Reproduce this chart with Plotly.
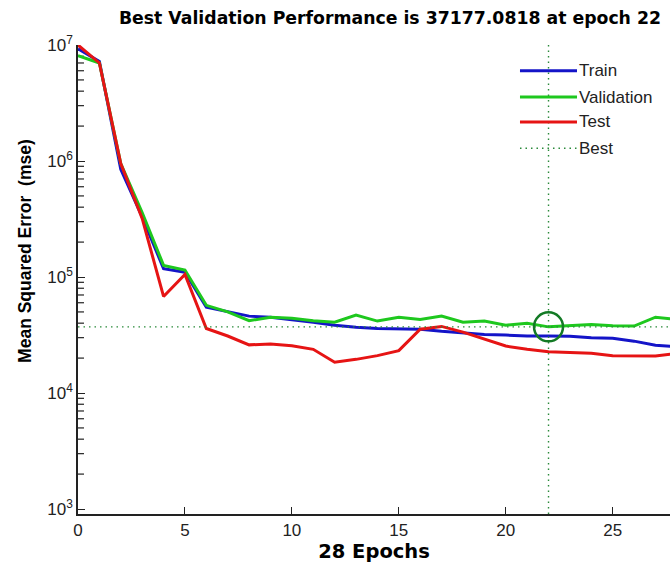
import plotly.graph_objects as go

# Training record: mean squared error per epoch
epochs = list(range(0, 29))
train = [9.3e6, 7.2e6, 8.5e5, 3.3e5, 1.18e5, 1.1e5, 5.5e4, 5.0e4, 4.6e4, 4.5e4,
         4.3e4, 4.07e4, 3.84e4, 3.69e4, 3.6e4, 3.6e4, 3.55e4, 3.4e4, 3.3e4, 3.2e4,
         3.16e4, 3.1e4, 3.1e4, 3.08e4, 3.0e4, 2.97e4, 2.8e4, 2.58e4, 2.5e4]
validation = [8.1e6, 7.0e6, 9.5e5, 3.6e5, 1.26e5, 1.15e5, 5.7e4, 5.0e4, 4.2e4, 4.5e4,
              4.4e4, 4.2e4, 4.07e4, 4.7e4, 4.17e4, 4.5e4, 4.3e4, 4.6e4, 4.07e4, 4.17e4,
              3.84e4, 4.0e4, 37177.0818, 3.8e4, 3.9e4, 3.8e4, 3.78e4, 4.5e4, 4.3e4]
test = [1.0e7, 7.0e6, 9.5e5, 3.2e5, 6.8e4, 1.05e5, 3.6e4, 3.1e4, 2.6e4, 2.65e4,
        2.55e4, 2.38e4, 1.84e4, 1.95e4, 2.1e4, 2.32e4, 3.55e4, 3.75e4, 3.35e4, 2.9e4,
        2.54e4, 2.38e4, 2.27e4, 2.24e4, 2.2e4, 2.1e4, 2.08e4, 2.08e4, 2.2e4]

best_epoch = 22
best_perf = 37177.0818
n_epochs = 28

x_ticks = [0, 5, 10, 15, 20, 25]
y_decades = [3, 4, 5, 6, 7]
legend_names = ["Train", "Validation", "Test", "Best"]

C_TRAIN = "#1414c8"
C_VAL = "#1ec81e"
C_TEST = "#e61414"
C_BEST = "#2a8a3a"
BEST_DASH = "1.5px,4px"
AXIS_COLOR = "#222222"

fig = go.Figure()

# Minor log ticks on the y axis (2..9 within each decade), drawn inward
minor_vals = [m * 10 ** d for d in y_decades[:-1] for m in range(2, 10)]
minor_len = 0.28  # in epochs, about 6 px
mx, my = [], []
for v in minor_vals:
    mx += [0, minor_len, None]
    my += [v, v, None]
fig.add_trace(go.Scatter(x=mx, y=my, mode="lines", hoverinfo="skip",
                         line=dict(color=AXIS_COLOR, width=1.2)))

fig.add_trace(go.Scatter(x=epochs, y=train, mode="lines", name=legend_names[0],
                         line=dict(color=C_TRAIN, width=3)))
fig.add_trace(go.Scatter(x=epochs, y=validation, mode="lines", name=legend_names[1],
                         line=dict(color=C_VAL, width=3)))
fig.add_trace(go.Scatter(x=epochs, y=test, mode="lines", name=legend_names[2],
                         line=dict(color=C_TEST, width=3)))

# Best-epoch guide lines (dotted) and marker
fig.add_trace(go.Scatter(x=[0, n_epochs], y=[best_perf, best_perf], mode="lines",
                         name=legend_names[3],
                         line=dict(color=C_BEST, width=1.4, dash=BEST_DASH)))
fig.add_trace(go.Scatter(x=[best_epoch, best_epoch], y=[10 ** 2.957, 1e7], mode="lines",
                         line=dict(color=C_BEST, width=1.4, dash=BEST_DASH)))
fig.add_trace(go.Scatter(x=[best_epoch], y=[best_perf], mode="markers",
                         marker=dict(symbol="circle-open", size=29,
                                     line=dict(color="#137a25", width=2.5),
                                     color="#137a25")))

# Legend block drawn in the upper-right corner of the axes
legend_styles = [
    dict(color=C_TRAIN, width=3, dash="solid"),
    dict(color=C_VAL, width=3, dash="solid"),
    dict(color=C_TEST, width=3, dash="solid"),
    dict(color=C_BEST, width=1.4, dash=BEST_DASH),
]
legend_y = [0.945, 0.889, 0.836, 0.780]
for name, style, yy in zip(legend_names, legend_styles, legend_y):
    fig.add_shape(type="line", xref="paper", yref="paper",
                  x0=0.7466, x1=0.8429, y0=yy, y1=yy, line=style)
    fig.add_annotation(text=name, xref="paper", yref="paper", x=0.8429, y=yy,
                       xanchor="left", yanchor="middle", showarrow=False,
                       font=dict(size=17, color=AXIS_COLOR,
                                 family="Liberation Sans, Arial, sans-serif"))

# Vertical axis title
fig.add_annotation(text="<b>Mean Squared Error  (mse)</b>", xref="paper", yref="paper",
                   x=-0.0895, y=0.561, xanchor="center", yanchor="middle",
                   textangle=-90, showarrow=False,
                   font=dict(size=17.5, color="#000000",
                             family="Liberation Sans, Arial, sans-serif"))

fig.update_layout(
    width=670, height=567,
    margin=dict(l=78, r=0, t=45, b=53),
    plot_bgcolor="white", paper_bgcolor="white",
    font=dict(family="Liberation Sans, Arial, sans-serif", color="#111111"),
    title=dict(text="<b>Best Validation Performance is %.4f at epoch %d</b>" % (best_perf, best_epoch),
               x=0.582, xanchor="center", y=0.968, yanchor="middle",
               font=dict(size=17.3, color="#000000", family="DejaVu Sans, sans-serif")),
    showlegend=False,
)

fig.update_xaxes(
    range=[0, 27.68], tickvals=x_ticks, ticktext=[str(v) for v in x_ticks],
    ticks="inside", ticklen=7, tickwidth=1.3, tickcolor=AXIS_COLOR,
    showline=True, linecolor=AXIS_COLOR, linewidth=1.5, mirror=False,
    showgrid=False, zeroline=False,
    tickfont=dict(size=17, color=AXIS_COLOR),
    title=dict(text="<b>%d Epochs</b>" % n_epochs,
               font=dict(size=19.5, color="#000000", family="DejaVu Sans, sans-serif"),
               standoff=4),
)

fig.update_yaxes(
    type="log", range=[2.957, 7.0],
    tickvals=[10 ** d for d in y_decades],
    ticktext=["10<sup>%d</sup>" % d for d in y_decades],
    ticks="inside", ticklen=7, tickwidth=1.3, tickcolor=AXIS_COLOR,
    showline=True, linecolor=AXIS_COLOR, linewidth=1.5, mirror=False,
    showgrid=False, zeroline=False,
    tickfont=dict(size=17, color=AXIS_COLOR),
)

fig.write_html("out.html")
